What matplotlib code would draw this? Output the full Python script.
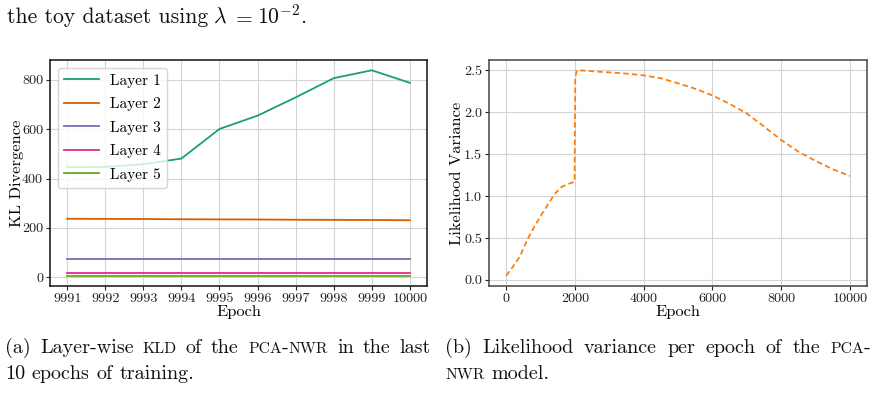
import matplotlib
matplotlib.use("Agg")
import matplotlib.pyplot as plt

plt.rcParams['font.family'] = ['cmr10', 'DejaVu Serif']
plt.rcParams['mathtext.fontset'] = 'cm'
plt.rcParams['axes.formatter.use_mathtext'] = True
plt.rcParams['axes.unicode_minus'] = False

# ---------------- data ----------------
kl_epochs = [9991, 9992, 9993, 9994, 9995, 9996, 9997, 9998, 9999, 10000]
kl_layer1 = [446, 447, 458, 481, 601, 655, 729, 807, 839, 788]
kl_layer2 = [237, 236.5, 236, 235, 234.5, 234, 233, 232.5, 232, 231]
kl_layer3 = [74, 74, 74, 74, 74, 74, 74, 74, 74, 74]
kl_layer4 = [16, 16, 16, 16, 16, 16, 16, 16, 16, 16]
kl_layer5 = [6, 6, 6, 6, 6, 6, 6, 6, 6, 6]
layer_labels = ["Layer 1", "Layer 2", "Layer 3", "Layer 4", "Layer 5"]
layer_colors = ["#1b9e77", "#d95f02", "#7570b3", "#e7298a", "#66a61e"]

var_epochs = [0, 200, 400, 600, 800, 1000, 1200, 1400, 1600, 1800, 1990, 2010,
              2060, 2300, 2600, 3000, 3500, 4000, 4500, 5000, 5500, 6000, 6500,
              7000, 7500, 8000, 8500, 9000, 9500, 10000]
var_values = [0.05, 0.16, 0.28, 0.47, 0.62, 0.76, 0.89, 1.02, 1.105, 1.145, 1.17, 2.42,
              2.50, 2.495, 2.485, 2.475, 2.46, 2.44, 2.405, 2.345, 2.28, 2.20, 2.10,
              1.985, 1.83, 1.67, 1.53, 1.42, 1.32, 1.24]
var_xticks = [0, 2000, 4000, 6000, 8000, 10000]
var_yticks = [0.0, 0.5, 1.0, 1.5, 2.0, 2.5]
kl_yticks = [0, 200, 400, 600, 800]

W, H = 879, 407
fig = plt.figure(figsize=(W / 100, H / 100), dpi=100)

def ax_rect(l, t, r, b):
    return [l / W, 1 - b / H, (r - l) / W, (b - t) / H]

tick_size = 10.2
label_size = 11.8
grid_kw = dict(color="#d4d4d4", linewidth=0.8)

# ---------------- left ----------------
ax1 = fig.add_axes(ax_rect(50, 60, 427, 286))
series = [kl_layer1, kl_layer2, kl_layer3, kl_layer4, kl_layer5]
for vals, lab, col in zip(series, layer_labels, layer_colors):
    ax1.plot(kl_epochs, vals, color=col, lw=1.3, label=lab)
ax1.set_xticks(kl_epochs, labels=[str(e) for e in kl_epochs])
ax1.set_yticks(kl_yticks, labels=[str(v) for v in kl_yticks])
ax1.grid(True, **grid_kw)
ax1.set_axisbelow(True)
ax1.set_xlabel("Epoch", fontsize=label_size, labelpad=0)
ax1.set_ylabel("KL Divergence", fontsize=label_size)
ax1.yaxis.set_label_coords(-0.07, 0.5)
leg = ax1.legend(loc="upper left", fontsize=11, handlelength=2.3, handletextpad=0.75,
                 framealpha=0.8, edgecolor="#cccccc", fancybox=True, labelspacing=0.62,
                 borderaxespad=0.5)
for sp in ax1.spines.values():
    sp.set_color("#111111")
    sp.set_linewidth(1.1)
ax1.tick_params(labelsize=tick_size, length=3, width=0.8, pad=2, colors="#222222")

# ---------------- right ----------------
ax2 = fig.add_axes(ax_rect(489, 60, 867, 286))
ax2.plot(var_epochs, var_values, color="#ff7f0e", lw=1.3, linestyle=(0, (3, 1.8)))
ax2.set_xticks(var_xticks, labels=[str(v) for v in var_xticks])
ax2.set_yticks(var_yticks, labels=["%.1f" % v for v in var_yticks])
ax2.grid(True, **grid_kw)
ax2.set_axisbelow(True)
ax2.set_xlabel("Epoch", fontsize=label_size, labelpad=0)
ax2.set_ylabel("Likelihood Variance", fontsize=label_size)
ax2.yaxis.set_label_coords(-0.065, 0.5)
for sp in ax2.spines.values():
    sp.set_color("#444444")
    sp.set_linewidth(1.1)
ax2.tick_params(labelsize=tick_size, length=3, width=0.8, pad=2, colors="#222222")

# ---------------- page text ----------------
cap = 14.5
body = 15.6
sc = cap * 0.78
fig.canvas.draw()
rend = fig.canvas.get_renderer()

def measure(s, size):
    t = fig.text(0, 0, s, fontsize=size)
    w = t.get_window_extent(rend).width
    t.remove()
    return w

def put(x, ybase, segs):
    xx = x
    for s, z in segs:
        fig.text(xx / W, 1 - ybase / H, s, fontsize=z, ha="left", va="baseline",
                 color="#111111")
        xx += measure(s, z)

def draw_line(x0, ybase, words, right=None):
    widths = [sum(measure(s, z) for s, z in wd) for wd in words]
    space = cap * 100 / 72 * 0.333
    if right is not None and len(words) > 1:
        space = (right - x0 - sum(widths)) / (len(words) - 1)
    x = x0
    for wd, w in zip(words, widths):
        put(x, ybase, wd)
        x += w + space

def N(s):
    return [(s, cap)]

put(7, 23, [("the toy dataset using", body)])
put(213, 23, [(r"$\lambda$", body)])
put(232, 23, [("$=$", body)])
put(257, 23, [(r"$10^{-2}$.", body)])

draw_line(5, 353, [N("(a)"), N("Layer-wise"), [("KLD", sc)], N("of"), N("the"),
                   [("PCA", sc), ("-", cap), ("NWR", sc)], N("in"), N("the"), N("last")],
          right=431)
draw_line(5, 379, [N("10"), N("epochs"), N("of"), N("training.")])
draw_line(445, 353, [N("(b)"), N("Likelihood"), N("variance"), N("per"), N("epoch"),
                     N("of"), N("the"), [("PCA", sc), ("-", cap)]], right=871)
draw_line(445, 379, [[("NWR", sc)], N("model.")])

fig.savefig("out.png", dpi=100)
